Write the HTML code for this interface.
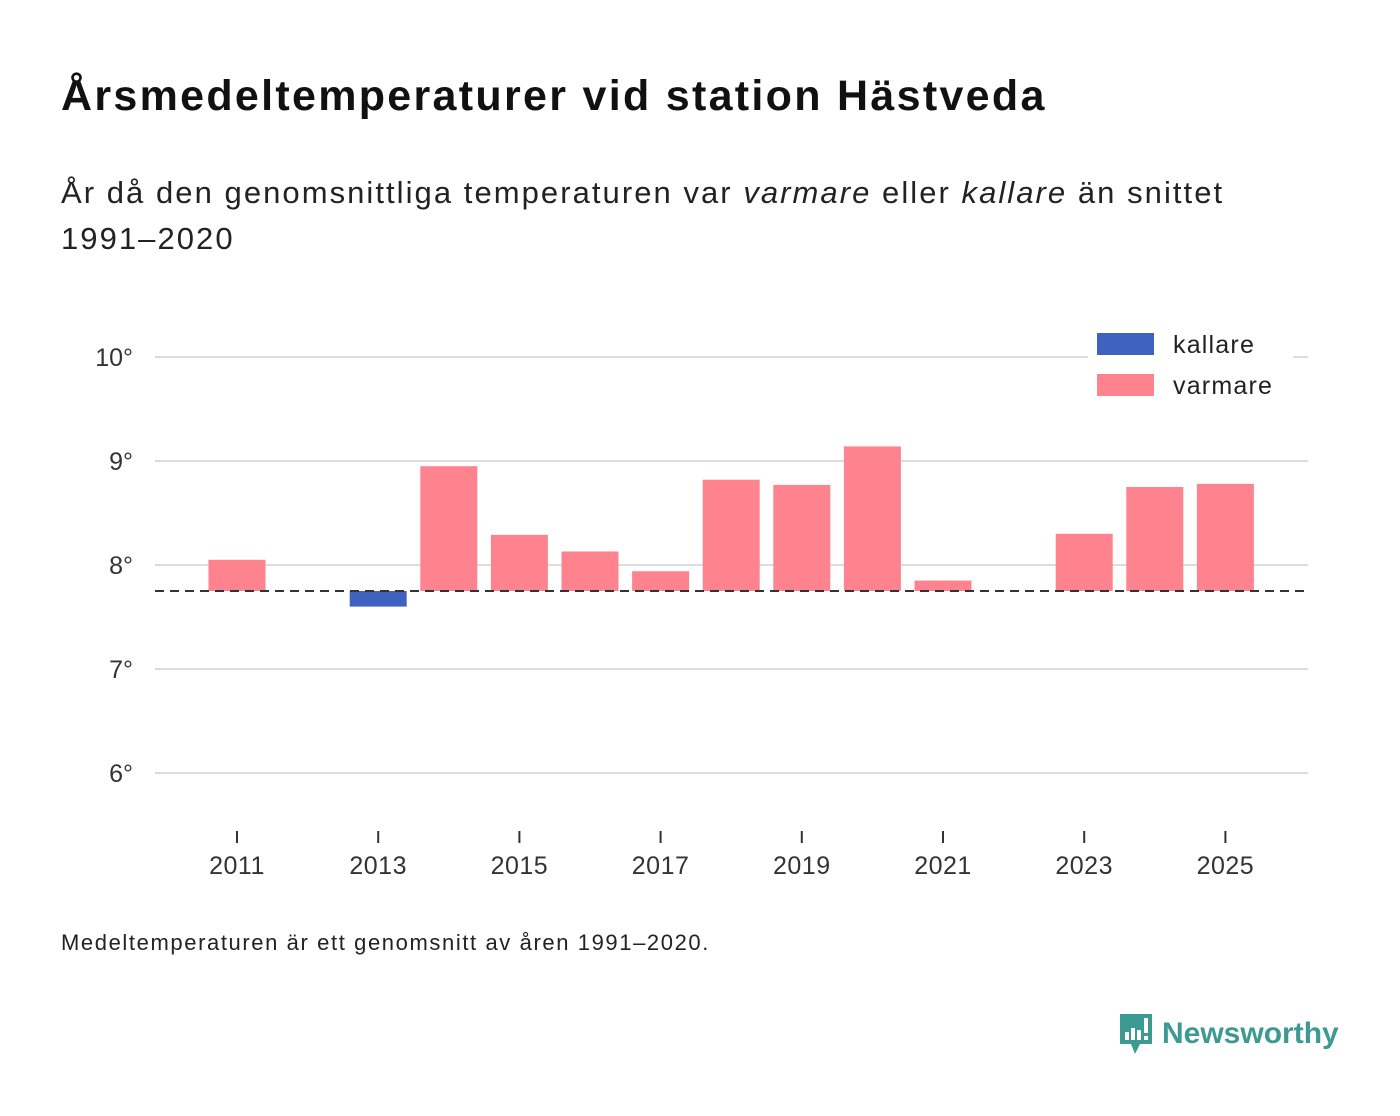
<!DOCTYPE html>
<html><head><meta charset="utf-8">
<style>
body{margin:0;width:1400px;height:1116px;background:#fff;font-family:"Liberation Sans",sans-serif;color:#111;overflow:hidden;position:relative}
h1{position:absolute;left:61px;top:72px;margin:0;font-size:43px;letter-spacing:2.3px;font-weight:bold;color:#111}
.sub{position:absolute;left:61px;top:170px;font-size:31px;letter-spacing:2.05px;line-height:46px;color:#222;width:1300px}
.foot{position:absolute;left:61px;top:930px;font-size:22px;letter-spacing:1.6px;color:#222}
.logo{position:absolute;left:1118px;top:1012px;display:flex;align-items:center}
.logo span{font-size:30px;font-weight:bold;color:#3d9a92;margin-left:8px}
</style></head><body>
<h1>Årsmedeltemperaturer vid station Hästveda</h1>
<div class="sub">År då den genomsnittliga temperaturen var <i>varmare</i> eller <i>kallare</i> än snittet<br>1991–2020</div>
<svg id="chart" width="1400" height="1116" style="position:absolute;left:0;top:0"></svg>
<div class="foot">Medeltemperaturen är ett genomsnitt av åren 1991–2020.</div>
<div class="logo">
<svg width="36" height="44" viewBox="0 0 36 44"><path d="M2 2H34V32H22L17 42L13 32H2Z" fill="#3d9a92"/><rect x="7" y="20" width="4" height="8" fill="#fff"/><rect x="13" y="16" width="4" height="12" fill="#fff"/><rect x="19" y="18" width="4" height="10" fill="#fff"/><rect x="26" y="6" width="4" height="15" fill="#fff"/><rect x="26" y="24" width="4" height="4" fill="#fff"/></svg>
<span>Newsworthy</span></div>
<script>
const years=[2011,2012,2013,2014,2015,2016,2017,2018,2019,2020,2021,2022,2023,2024,2025];
const temps=[8.05,null,7.60,8.95,8.29,8.13,7.94,8.82,8.77,9.14,7.85,null,8.30,8.75,8.78];
const baseline=7.75;
const yTicks=[6,7,8,9,10];
const xTicks=[2011,2013,2015,2017,2019,2021,2023,2025];
const NS="http://www.w3.org/2000/svg";
const svg=document.getElementById('chart');
const y=v=>565-(v-8)*104;
const x=yr=>237+(yr-2011)*70.6;
function mk(t,a){const e=document.createElementNS(NS,t);for(const k in a)e.setAttribute(k,a[k]);svg.appendChild(e);return e;}
yTicks.forEach(t=>{
 const l=mk('line',{x1:155,x2:1308,y1:y(t),y2:y(t),stroke:'#ddd','stroke-width':2});
 
 
 const tx=mk('text',{x:133,y:y(t)+9,'text-anchor':'end','font-size':25,fill:'#333','font-family':'Liberation Sans, sans-serif'});
 tx.textContent=t+'°';
 
 
});
years.forEach((yr,i)=>{
 const v=temps[i]; if(v==null)return;
 const top=Math.min(y(v),y(baseline)),h=Math.abs(y(v)-y(baseline));
 const r=mk('rect',{x:x(yr)-28.5,y:top,width:57,height:h,fill:v>=baseline?'#ff838f':'#4062bf'});
 
 
});
const bl=mk('line',{x1:155,x2:1308,y1:y(baseline),y2:y(baseline),stroke:'#333','stroke-width':2,'stroke-dasharray':'9,6'});


xTicks.forEach(t=>{
 const l=mk('line',{x1:x(t),x2:x(t),y1:831,y2:843,stroke:'#333','stroke-width':2});
 
 
 const tx=mk('text',{x:x(t),y:874,'text-anchor':'middle','font-size':25,'letter-spacing':0.5,fill:'#333','font-family':'Liberation Sans, sans-serif'});
 tx.textContent=t;
 
 
});
const lg=mk('rect',{x:1088,y:325,width:205,height:80,fill:'#fff'});


[['kallare','#4062bf',333],['varmare','#ff838f',374]].forEach(([n,c,yy])=>{
 const r=mk('rect',{x:1097,y:yy,width:57,height:22,fill:c});
 
 
 const t=mk('text',{x:1173,y:yy+20,'font-size':25,'letter-spacing':1.2,fill:'#222','font-family':'Liberation Sans, sans-serif'});
 t.textContent=n;
 
 
});
</script>
</body></html>
